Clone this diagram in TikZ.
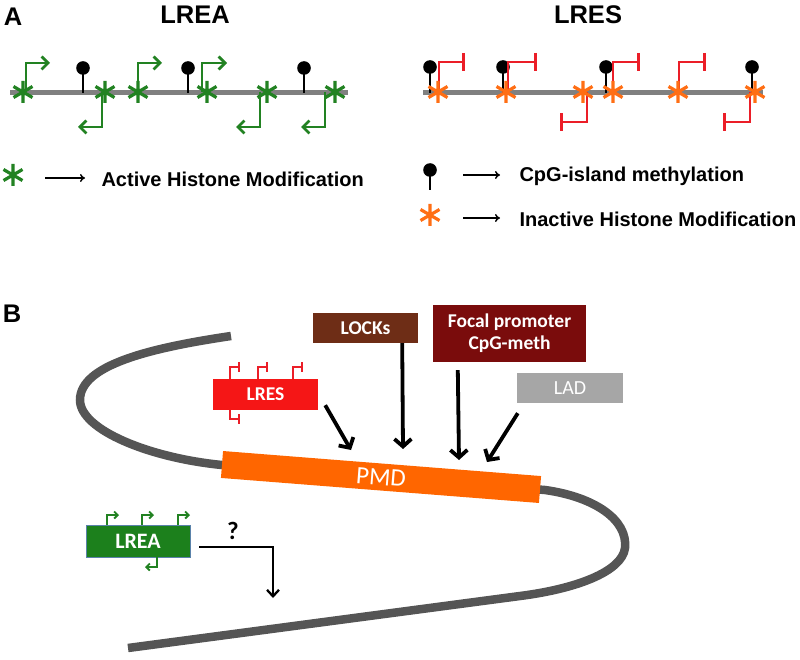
\documentclass[tikz,border=0pt]{standalone}
\usepackage{fontspec}
\setmainfont{Liberation Sans}
\newfontfamily\calfont{Carlito}
\usetikzlibrary{arrows.meta,calc}
\definecolor{agreen}{RGB}{34,130,34}
\definecolor{boxgreen}{RGB}{28,128,28}
\definecolor{aorange}{RGB}{255,110,20}
\definecolor{ared}{RGB}{235,30,40}
\definecolor{lresred}{RGB}{245,22,22}
\definecolor{lockbrown}{RGB}{110,45,22}
\definecolor{focalred}{RGB}{122,12,12}
\definecolor{ladgray}{RGB}{166,166,166}
\definecolor{curvegray}{RGB}{85,85,85}
\definecolor{linegray}{RGB}{128,128,128}
\definecolor{pmdorange}{RGB}{255,102,0}
\tikzset{
  astar/.pic={\draw[line width=3.2pt] (0,-11)--(0,11) (-9.5,-5.5)--(9.5,5.5) (-9.5,5.5)--(9.5,-5.5);},
  baseline/.style={line width=5pt, linegray},
  stick/.style={line width=2.6pt, black},
  prom/.style={agreen, line width=2.8pt, -{Straight Barb[length=6.5pt,width=13pt]}},
  rep/.style={ared, line width=2.6pt, -{Bar[width=18pt]}},
  legarrow/.style={line width=1.5pt, -{To[length=5pt,width=8pt]}},
  heading/.style={font=\bfseries\fontsize{25.5}{27}\selectfont},
  legtext/.style={anchor=west, font=\bfseries\fontsize{20}{22}\selectfont},
  bbox/.style={text=white, inner sep=0pt, font=\calfont\bfseries\fontsize{19.5}{22}\selectfont, align=center},
  bigarrow/.style={line width=3.8pt, -{Straight Barb[length=7.5pt,width=17pt]}},
  srep/.style={ared, line width=1.9pt, -{Bar[width=10pt]}},
  sprom/.style={agreen, line width=1.9pt, -{Straight Barb[length=3.5pt,width=7pt]}},
}
\begin{document}
\begin{tikzpicture}[x=1pt,y=-1pt]
\useasboundingbox (0,0) rectangle (800,660);

% ---------- Panel A ----------
\node[heading] (labA) at (13,17) {A};
\node[heading] (tLREA) at (195,15) {LREA};
\node[heading] (tLRES) at (588,15) {LRES};

% LREA track
\draw[baseline] (10,93) -- (348,93);
\foreach \x in {83,188,304} {
  \draw[stick] (\x,93) -- (\x,68);
  \fill (\x,68) circle (6.8);
}
\draw[prom] (26,92) |- (50,63);
\draw[prom] (138,92) |- (162,63);
\draw[prom] (202,92) |- (227,63);
\draw[prom] (102,92) |- (78,127);
\draw[prom] (260,92) |- (236,127);
\draw[prom] (325,92) |- (301,127);
\foreach \x in {23,105,138,207,267,335} \pic[agreen] at (\x,92) {astar};

% LRES track
\draw[baseline] (423,93) -- (763,93);
\foreach \x in {430,503,606,752} {
  \draw[stick] (\x,93) -- (\x,67);
  \fill (\x,67) circle (6.8);
}
\draw[rep] (439,92) |- (465,62);
\draw[rep] (508,92) |- (537,62);
\draw[rep] (613,92) |- (640,62);
\draw[rep] (679,92) |- (706,62);
\draw[rep] (587,92) |- (560,122);
\draw[rep] (750,92) |- (723,122);
\foreach \x in {438,506,583,613,678,755} \pic[aorange] at (\x,92) {astar};

% Legend
\pic[agreen] at (13,175) {astar};
\coordinate (la1) at (45,178);
\node[legtext] (lg1) at (98,179) {Active Histone Modification};
\draw[legarrow] (la1) -- ($(lg1.west)+(-13,-1)$);

\draw[stick] (430,190) -- (430,170);
\fill (430,170) circle (6.8);
\coordinate (la2) at (463,175);
\node[legtext] (lg2) at (516,176) {CpG-island methylation};
\draw[legarrow] (la2) -- ($(lg2.west)+(-16,-1)$);

\pic[aorange] at (430,215) {astar};
\coordinate (la3) at (463,218);
\node[legtext] (lg3) at (516,219) {Inactive Histone Modification};
\draw[legarrow] (la3) -- ($(lg3.west)+(-16,-1)$);

% ---------- Panel B ----------
\node[heading] (labB) at (12,314) {B};

% chromatin fibre
\draw[curvegray, line width=8.5pt]
  (231,336) .. controls (150,348) and (80,365) .. (80,400)
  .. controls (80,430) and (150,458) .. (222,465)
  -- (545,490)
  .. controls (595,497) and (628,520) .. (625,548)
  .. controls (622,572) and (575,589) .. (520,596)
  -- (128,648);

\node[fill=pmdorange, minimum width=319pt, minimum height=27pt, inner sep=0pt,
      rotate=-4.5, text=white, font=\calfont\fontsize{25}{27}\selectfont] (pmd) at (381,477) {PMD};

\node[bbox, fill=lockbrown, minimum width=105pt, minimum height=30pt] (locks) at (365.5,328) {LOCKs};
\node[bbox, fill=focalred, minimum width=153pt, minimum height=57pt] (focal) at (509.5,333.5) {Focal promoter\\CpG-meth};
\node[bbox, fill=ladgray, minimum width=106pt, minimum height=30pt, font=\calfont\fontsize{20}{22}\selectfont] (lad) at (570,388) {LAD};
\node[bbox, fill=lresred, minimum width=105pt, minimum height=31pt] (lres) at (265.5,394.5) {LRES};
\node[bbox, fill=boxgreen, draw={rgb,255:red,90;green,130;blue,170}, line width=0.6pt, minimum width=104pt, minimum height=32pt, font=\calfont\bfseries\fontsize{22}{24}\selectfont] (lrea) at (138,541) {LREA};

% small glyphs on LRES box
\draw[srep] (230,379) |- (240,367);
\draw[srep] (258,379) |- (268,367);
\draw[srep] (293,379) |- (303,367);
\draw[srep] (230,410) |- (240,419);

% small glyphs on LREA box
\draw[sprom] (107,525) |- (119,515);
\draw[sprom] (142,525) |- (154,515);
\draw[sprom] (178,525) |- (190,515);
\draw[sprom] (157,557) |- (145,567);

% arrows onto PMD
\coordinate (e1) at (351,450);
\coordinate (e2) at (403,449);
\coordinate (e3) at (459,460);
\coordinate (e4) at (487,462);
\draw[bigarrow] ($(lres.south east)+(7,-5)$) -- (e1);
\draw[bigarrow] ($(locks.south east)+(-16,0)$) -- (e2);
\draw[bigarrow] ($(focal.south west)+(25,8)$) -- (e3);
\draw[bigarrow] ($(lad.south west)+(1,10)$) -- (e4);

% LREA question arrow
\node[font=\calfont\bfseries\fontsize{25}{27}\selectfont] (q) at (233,531) {?};
\coordinate (qend) at (273,598);
\draw[line width=2.3pt, -{Straight Barb[length=6.5pt,width=12pt]}] ($(lrea.east)+(9,6)$) -| (qend);
\end{tikzpicture}
\end{document}
